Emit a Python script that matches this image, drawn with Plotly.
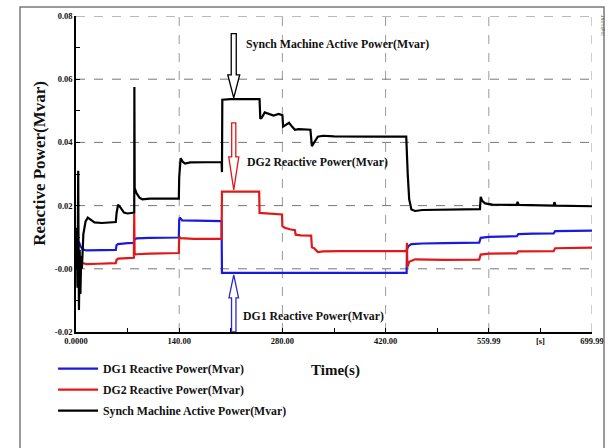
import plotly.graph_objects as go

# ---------------- data ----------------
t_dg1 = [0, 2, 4, 6, 9, 14, 30, 54, 55, 57, 70, 78.5, 79, 82, 100, 139.5, 140, 141, 144, 160, 197.5, 198,
         300, 448.5, 449, 451, 455, 470, 500, 547, 549, 560, 598, 600, 620, 648, 650, 700]
v_dg1 = [0.0, 0.005, 0.0085, 0.0072, 0.0062, 0.0058, 0.0059, 0.006, 0.0075, 0.0078, 0.0081, 0.0082, 0.0093,
         0.0096, 0.0098, 0.0099, 0.0155, 0.0162, 0.0153, 0.0152, 0.0151, -0.0013,
         -0.0013, -0.0013, 0.0062, 0.0072, 0.0078, 0.0080, 0.0081, 0.0083, 0.0098, 0.0101, 0.0103, 0.0110,
         0.0111, 0.0112, 0.0119, 0.0121]

t_dg2 = [0, 2, 4, 6, 9, 14, 30, 54, 55, 57, 70, 78.5, 79, 79.5, 82, 100, 139.5, 140, 142, 160, 197.5, 198,
         220, 248.5, 249, 260, 279.5, 280, 283, 290, 297, 298, 305, 319, 320, 323, 328, 335, 360, 448.5,
         449, 449.5, 452, 460, 500, 547, 549, 560, 598, 600, 620, 648, 650, 700]
v_dg2 = [0.0, 0.004, 0.0035, 0.0025, 0.0018, 0.0015, 0.0016, 0.0018, 0.0028, 0.0032, 0.0034, 0.0035, 0.0175,
         0.0045, 0.0046, 0.0048, 0.005, 0.0101, 0.0097, 0.0095, 0.0095, 0.0244,
         0.0244, 0.0244, 0.0177, 0.0175, 0.0172, 0.0135, 0.013, 0.0125, 0.0122, 0.0108, 0.0106, 0.0105,
         0.0068, 0.0065, 0.0053, 0.0055, 0.0056, 0.0056,
         0.0082, 0.0005, 0.0022, 0.003, 0.0028, 0.0029, 0.0045, 0.0048, 0.0049, 0.0055, 0.0055, 0.0056,
         0.0065, 0.0067]

t_sm = [0, 1, 2, 3, 3.5, 4, 5, 6, 7, 8, 10, 13, 16, 20, 25, 35, 50, 54, 55, 57, 60, 65, 70, 78, 79, 79.2,
        79.6, 82, 86, 90, 100, 120, 139.5, 140, 141, 142, 145, 148, 155, 170, 197.5, 198, 198.5, 210, 230,
        249, 250, 252, 256, 262, 268, 275, 280, 281, 284, 289, 293, 297, 302, 310, 318, 320, 323, 328, 335,
        350, 400, 448, 450, 452, 455, 460, 470, 500, 548, 549, 551, 555, 565, 598, 599, 600.5, 648, 649,
        650.5, 700]
v_sm = [0.0, 0.013, -0.006, 0.031, 0.005, -0.013, 0.006, -0.008, 0.004, 0.0, 0.011, 0.015, 0.0162, 0.0155,
        0.0147, 0.0145, 0.0146, 0.0148, 0.0175, 0.0203, 0.0195, 0.0178, 0.0175, 0.0178, 0.0178, 0.0575,
        0.0255, 0.024, 0.0225, 0.022, 0.0222, 0.0222, 0.0222, 0.029, 0.033, 0.035, 0.0338, 0.0333, 0.0337,
        0.0338, 0.0338, 0.0306, 0.0535, 0.0537, 0.0537,
        0.0537, 0.0475, 0.0478, 0.0495, 0.0490, 0.0485, 0.0490, 0.0486, 0.0450, 0.0455, 0.0462, 0.0450,
        0.0440, 0.0442, 0.0440, 0.0440, 0.0388, 0.0400, 0.0418, 0.0421,
        0.0419, 0.0418, 0.0418, 0.030, 0.022, 0.0188, 0.0183, 0.0186, 0.0188, 0.0189, 0.0228, 0.0215,
        0.0207, 0.0203, 0.0202, 0.0212, 0.0202, 0.0200, 0.0211, 0.0200, 0.0198]

x_tickvals = [0, 140, 280, 420, 559.99, 630, 699.99]
x_ticktext = ["0.0000", "140.00", "280.00", "420.00", "559.99", "[s]", "699.99"]
y_tickvals = [-0.02, 0.0, 0.02, 0.04, 0.06, 0.08]
y_ticktext = ["-0.02", "-0.00", "0.02", "0.04", "0.06", "0.08"]
x_grid = [140, 280, 420, 559.99, 699.99]
y_grid = [0.0, 0.02, 0.04, 0.06, 0.08]

names = ["DG1 Reactive Power(Mvar)", "DG2 Reactive Power(Mvar)", "Synch Machine Active Power(Mvar)"]
colors = ["#1a1adc", "#e01818", "#000000"]

FONT = "Liberation Serif"

fig = go.Figure()
for i, (tx, vy) in enumerate([(t_dg1, v_dg1), (t_dg2, v_dg2), (t_sm, v_sm)]):
    fig.add_trace(go.Scatter(x=tx, y=vy, mode="lines", name=names[i], legendgroup=str(i),
                             line=dict(color=colors[i], width=2.2)))

shapes = []
for gx in x_grid:
    shapes.append(dict(type="line", xref="x", yref="y", x0=gx, x1=gx, y0=-0.02, y1=0.08,
                       line=dict(color="#9a9a9a", width=1, dash="dash"), layer="below"))
for gy in y_grid:
    shapes.append(dict(type="line", xref="x", yref="y", x0=0, x1=699.99, y0=gy, y1=gy,
                       line=dict(color="#777777", width=1, dash="dash"), layer="below"))


def down_arrow(xc, ytop, yhead, ytip, hs, hh, color):
    p = (f"M{xc-hs},{ytop} L{xc+hs},{ytop} L{xc+hs},{yhead} L{xc+hh},{yhead} L{xc},{ytip} "
         f"L{xc-hh},{yhead} L{xc-hs},{yhead} Z")
    return dict(type="path", xref="x", yref="y", path=p, line=dict(color=color, width=1.3),
                fillcolor="rgba(255,255,255,0)")


shapes.append(down_arrow(214, 0.0744, 0.0614, 0.0541, 3.4, 8.1, "#000000"))
shapes.append(down_arrow(214, 0.0462, 0.0354, 0.0250, 2.8, 6.8, "#e01818"))
shapes.append(down_arrow(214, -0.0200, -0.0092, -0.0019, 3.0, 6.5, "#2a2ad0"))

# outer frame
shapes.append(dict(type="rect", xref="paper", yref="paper", x0=-0.1085, x1=1.0233, y0=-0.45, y1=1.0285,
                   line=dict(color="#7a7a7a", width=1.5)))

ann_font = dict(family=FONT, size=11.8, color="#111", weight="bold")
annos = [
    dict(x=228, y=0.0710, xref="x", yref="y", text="Synch Machine Active Power(Mvar)", showarrow=False,
         xanchor="left", yanchor="middle", font=ann_font),
    dict(x=229, y=0.0338, xref="x", yref="y", text="DG2 Reactive Power(Mvar)", showarrow=False,
         xanchor="left", yanchor="middle", font=ann_font),
    dict(x=224, y=-0.0150, xref="x", yref="y", text="DG1 Reactive Power(Mvar)", showarrow=False,
         xanchor="left", yanchor="middle", font=ann_font),
    dict(x=-0.07, y=0.535, xref="paper", yref="paper", text="Reactive Power(Mvar)", showarrow=False,
         textangle=-90, xanchor="center", yanchor="middle",
         font=dict(family=FONT, size=17, color="#111", weight="bold")),
    dict(x=0.502, y=-0.123, xref="paper", yref="paper", text="Time(s)", showarrow=False,
         xanchor="center", yanchor="middle", font=dict(family=FONT, size=15, color="#111", weight="bold")),
    dict(x=1.02, y=0.97, xref="paper", yref="paper", text="DIgSILENT", showarrow=False, textangle=-90,
         xanchor="center", yanchor="middle", font=dict(family="DejaVu Sans", size=4, color="#555")),
]

fig.update_layout(
    width=615, height=448,
    margin=dict(l=76, r=23, t=16, b=116),
    paper_bgcolor="white", plot_bgcolor="white",
    shapes=shapes, annotations=annos,
    showlegend=True,
    legend=dict(x=-0.0445, y=-0.07, xanchor="left", yanchor="top", tracegroupgap=2,
                font=dict(family=FONT, size=11.8, color="#111", weight="bold"),
                bgcolor="rgba(0,0,0,0)", itemwidth=40),
    xaxis=dict(range=[0, 699.99], tickvals=x_tickvals, ticktext=x_ticktext, showgrid=False,
               zeroline=False, showline=True, linecolor="#000", linewidth=1.5, automargin=False,
               ticks="inside", ticklen=4, tickcolor="#000",
               minor=dict(tickvals=[70, 210, 350, 490], ticks="inside", ticklen=4, tickcolor="#000"),
               tickfont=dict(family=FONT, size=8.5, color="#111", weight="bold")),
    yaxis=dict(range=[-0.02, 0.08], tickvals=y_tickvals, ticktext=y_ticktext, showgrid=False,
               zeroline=False, showline=True, linecolor="#000", linewidth=1.5, automargin=False,
               ticks="inside", ticklen=4, tickcolor="#000",
               minor=dict(tickvals=[-0.01, 0.01, 0.03, 0.05, 0.07], ticks="inside", ticklen=4,
                          tickcolor="#000"),
               tickfont=dict(family=FONT, size=8.5, color="#111", weight="bold")),
)

fig.write_html("out.html", config={"displayModeBar": False},
               post_script="document.body.style.margin='0px';")
